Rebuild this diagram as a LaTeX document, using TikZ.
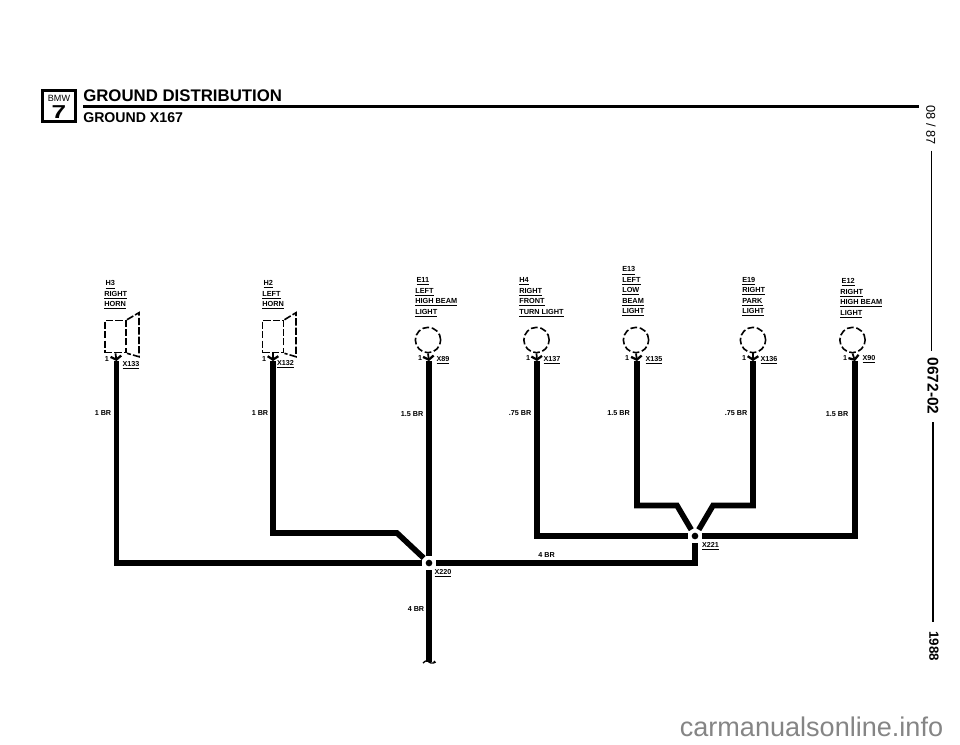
\documentclass[tikz,border=0pt]{standalone}
\usepackage{fontspec}
\setmainfont{Liberation Sans}
\usetikzlibrary{arrows.meta, shapes}

\begin{document}
\begin{tikzpicture}[
    x=0.75pt, y=-0.75pt,
    % Styles
    wire/.style={% For the heavy brown wires
        line width=4.2pt,
        miter limit=10,
        },
    stem/.style={% For the short lead under a device
        line width=1.3pt,
        -{Straight Barb[length=2.6pt,width=8pt,line width=1.7pt]},
        },
    lamp/.style={% For the dashed lamp circles
        circle,
        draw,
        line width=1.2pt,
        dash pattern=on 5pt off 2pt,
        minimum size=19pt,
        inner sep=0pt,
        },
    hornbox/.style={% For the dashed horn body
        rectangle,
        draw,
        line width=1.2pt,
        dash pattern=on 5.5pt off 1.6pt,
        minimum width=16pt,
        minimum height=24pt,
        inner sep=0pt,
        },
    hornflare/.style={% For the dashed horn mouth
        line width=1.2pt,
        dash pattern=on 5.5pt off 1.6pt,
        },
    gnd/.style={% For the ground points
        circle,
        fill,
        minimum size=5pt,
        inner sep=0pt,
        outer sep=3pt,
        },
    devtext/.style={% For the device names
        anchor=north west,
        align=left,
        inner sep=0pt,
        font=\fontsize{5.5}{7.8}\selectfont\bfseries,
        },
    smalltext/.style={% For pin and wire labels
        inner sep=0pt,
        font=\fontsize{5.4}{6}\selectfont\bfseries,
        },
    ]

    \useasboundingbox (0,0) rectangle (960,744);

    %Header
    \node [draw, line width=2.4pt, minimum width=25pt, minimum height=23.5pt, inner sep=0pt] (logo) at (59,106) {};
    \node [inner sep=0pt, font=\fontsize{6.8}{7}\selectfont] (bmw) at (59,98.5) {BMW};
    \node [inner sep=0pt, font=\fontsize{14}{14}\selectfont\bfseries, xscale=1.4] (seven) at (59,112) {7};
    \node [inner sep=0pt, anchor=west, font=\fontsize{12.6}{13}\selectfont\bfseries] (title) at (83,96) {GROUND DISTRIBUTION};
    \node [inner sep=0pt, anchor=west, font=\fontsize{10.6}{11}\selectfont\bfseries] (subtitle) at (83,118) {GROUND X167};
    \coordinate (ruleL) at (83,106.5);
    \coordinate (ruleR) at (919,106.5);
    \draw [line width=1.6pt] (ruleL) -- (ruleR);

    %Right margin
    \node [inner sep=0pt, rotate=-90, font=\fontsize{9.6}{10}\selectfont] (date) at (931,125) {08 / 87};
    \node [inner sep=0pt, rotate=-90, font=\fontsize{11.6}{12}\selectfont\bfseries] (page) at (933,386) {0672-02};
    \node [inner sep=0pt, rotate=-90, font=\fontsize{10}{11}\selectfont\bfseries] (year) at (934,646) {1988};
    \coordinate (line1top) at (931.5,150.5);
    \coordinate (line1end) at (931.5,351);
    \coordinate (line2top) at (933,422);
    \coordinate (line2end) at (933,622);
    \draw [line width=1.4pt] (line1top) -- (line1end);
    \draw [line width=1.4pt] (line2top) -- (line2end);

    %Device names
    \node [devtext] (h3) at (104,280.5) {\hspace{1pt}\underline{H3}\\\underline{RIGHT}\\\underline{HORN}};
    \node [devtext] (h2) at (262,280.5) {\hspace{1pt}\underline{H2}\\\underline{LEFT}\\\underline{HORN}};
    \node [devtext] (e11) at (415,277.5) {\hspace{1pt}\underline{E11}\\\underline{LEFT}\\\underline{HIGH BEAM}\\\underline{LIGHT}};
    \node [devtext] (h4) at (519,277.5) {\underline{H4}\\\underline{RIGHT}\\\underline{FRONT}\\\underline{TURN LIGHT}};
    \node [devtext] (e13) at (622,266.5) {\underline{E13}\\\underline{LEFT}\\\underline{LOW}\\\underline{BEAM}\\\underline{LIGHT}};
    \node [devtext] (e19) at (742,277) {\underline{E19}\\\underline{RIGHT}\\\underline{PARK}\\\underline{LIGHT}};
    \node [devtext] (e12) at (840,278.5) {\hspace{1pt}\underline{E12}\\\underline{RIGHT}\\\underline{HIGH BEAM}\\\underline{LIGHT}};

    %Horns
    \node [hornbox] (h3box) at (115.5,336.5) {};
    \draw [hornflare] (h3box.north east) -- ++(12,-7) -- ++(0,44) -- (h3box.south east);
    \node [hornbox] (h2box) at (273,336.5) {};
    \draw [hornflare] (h2box.north east) -- ++(11.5,-7) -- ++(0,44) -- (h2box.south east);

    %Lamps
    \node [lamp] (e11lamp) at (428,340) {};
    \node [lamp] (h4lamp) at (536.5,340) {};
    \node [lamp] (e13lamp) at (636,340) {};
    \node [lamp] (e19lamp) at (753,340) {};
    \node [lamp] (e12lamp) at (852.5,340) {};

    %Wire tops
    \coordinate (h3top) at (116.5,361);
    \coordinate (h2top) at (273,361);
    \coordinate (e11top) at (429,361);
    \coordinate (h4top) at (537,361);
    \coordinate (e13top) at (637,361);
    \coordinate (e19top) at (753,361);
    \coordinate (e12top) at (855,361);

    %Leads
    \draw [stem] (h3box.south) -- (h3top);
    \draw [stem] (h2box.south) -- (h2top);
    \draw [stem] (e11lamp.south) -- (e11top);
    \draw [stem] (h4lamp.south) -- (h4top);
    \draw [stem] (e13lamp.south) -- (e13top);
    \draw [stem] (e19lamp.south) -- (e19top);
    \draw [stem] (e12lamp.south) -- (e12top);

    %Ground points
    \node [gnd] (x220) at (429,563) {};
    \node [gnd] (x221) at (695,536) {};
    \coordinate (h2bend) at (397,533);
    \coordinate (e13bend) at (677,505.5);
    \coordinate (e19bend) at (713,505.5);
    \coordinate (x220end) at (429,662);

    % Draw Wires
    \draw [wire] (h3top) |- (x220);
    \draw [wire] (h2top) |- (h2bend) -- (x220);
    \draw [wire] (e11top) -- (x220);
    \draw [wire] (h4top) |- (x221);
    \draw [wire] (e13top) |- (e13bend) -- (x221);
    \draw [wire] (e19top) |- (e19bend) -- (x221);
    \draw [wire] (e12top) |- (x221);
    \draw [wire] (x221) |- (x220);
    \draw [wire] (x220) -- (x220end);
    \draw [line width=1pt] (x220end) ++(-6,1) .. controls +(2,-3) and +(4,-3) .. (x220end) .. controls +(1,2) and +(4,2) .. ++(5,-1);

    %Pin numbers
    \node [smalltext] (h3pin) at (107,359) {1};
    \node [smalltext] (h2pin) at (264,359) {1};
    \node [smalltext] (e11pin) at (420,358) {1};
    \node [smalltext] (h4pin) at (528,358) {1};
    \node [smalltext] (e13pin) at (627,358) {1};
    \node [smalltext] (e19pin) at (744,358) {1};
    \node [smalltext] (e12pin) at (845,358) {1};

    %Connector names
    \node [smalltext] (x133) at (131,365) {\underline{X133}};
    \node [smalltext] (x132) at (285.5,364) {\underline{X132}};
    \node [smalltext] (x89) at (443,360) {\underline{X89}};
    \node [smalltext] (x137) at (552,360) {\underline{X137}};
    \node [smalltext] (x135) at (654,360) {\underline{X135}};
    \node [smalltext] (x136) at (769,360) {\underline{X136}};
    \node [smalltext] (x90) at (869,359.5) {\underline{X90}};
    \node [smalltext] (x220name) at (443,573) {\underline{X220}};
    \node [smalltext] (x221name) at (710.5,546) {\underline{X221}};

    %Wire labels
    \node [smalltext] (h3wire) at (103,413) {1 BR};
    \node [smalltext] (h2wire) at (260,413) {1 BR};
    \node [smalltext] (e11wire) at (412,414) {1.5 BR};
    \node [smalltext] (h4wire) at (520,413) {.75 BR};
    \node [smalltext] (e13wire) at (618.5,413) {1.5 BR};
    \node [smalltext] (e19wire) at (736,413) {.75 BR};
    \node [smalltext] (e12wire) at (837,414) {1.5 BR};
    \node [smalltext] (mainwire) at (546.5,555) {4 BR};
    \node [smalltext] (downwire) at (416,609) {4 BR};

    %Site mark
    \node [inner sep=0pt, text=black!48, font=\fontsize{20.3}{21}\selectfont] (site) at (811.5,727) {carmanualsonline.info};

\end{tikzpicture}
\end{document}
